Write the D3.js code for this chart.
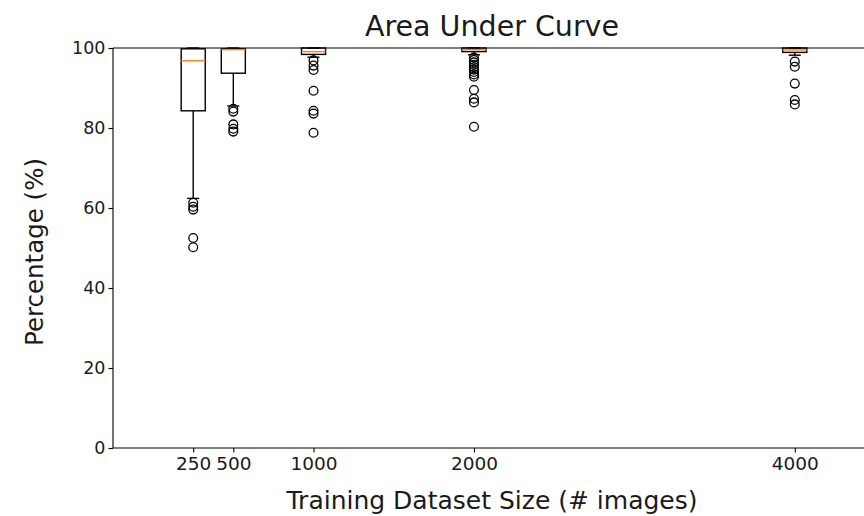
<!DOCTYPE html>
<html><head><meta charset="utf-8">
<script src="https://cdn.jsdelivr.net/npm/d3@7/dist/d3.min.js"></script>
<style>body{margin:0;background:#fff}svg{display:block}text{font-family:"DejaVu Sans",sans-serif;fill:#1a1a1a}</style>
</head><body><svg id="c" width="864" height="516"></svg>
<script>
const sizes = [250, 500, 1000, 2000, 4000];
const whiskerHi = [100, 100, 100, 100, 100];
const q3 = [99.8, 99.8, 100, 100, 100];
const medians = [96.8, 99.6, 99.1, 99.6, 99.5];
const q1 = [84.3, 93.7, 98.4, 99.1, 98.9];
const whiskerLo = [62.4, 85.5, 97.7, 98.3, 98.2];
const fliers250 = [61.3, 60.3, 59.6, 52.5, 50.2];
const fliers500 = [84.8, 84.1, 80.9, 79.8, 79.1];
const fliers1000 = [96.9, 95.6, 94.5, 89.3, 84.3, 83.6, 78.8];
const fliers2000 = [97.6, 97.0, 96.4, 95.8, 95.2, 94.6, 94.0, 93.4, 92.8, 89.5, 87.3, 86.4, 80.3];
const fliers4000 = [96.6, 95.3, 91.1, 87.0, 85.9];
const fliers = [fliers250, fliers500, fliers1000, fliers2000, fliers4000];
const yTicks = [0, 20, 40, 60, 80, 100];
const boxWidth = 150;

const svg = d3.select("#c");
const x = d3.scaleLinear().domain([-250, 4500]).range([113, 875]);
const y = d3.scaleLinear().domain([0, 100]).range([448, 48]);

const gx = svg.append("g").attr("transform", "translate(0,448)")
  .call(d3.axisBottom(x).tickValues(sizes).tickFormat(d3.format("d")).tickSize(4.5).tickPadding(4));
const gy = svg.append("g").attr("transform", "translate(113,0)")
  .call(d3.axisLeft(y).tickValues(yTicks).tickSize(4.5).tickPadding(3));
[gx, gy].forEach(g => {
  g.select(".domain").remove();
  g.selectAll("line").attr("stroke", "#000").attr("stroke-width", 1.1);
  g.selectAll("text").style("fill", "#1a1a1a").style("font-family", "DejaVu Sans");
});
gx.selectAll("text").style("font-size", "18.5px");
gy.selectAll("text").style("font-size", "17.5px");
svg.append("line").attr("x1", 113).attr("x2", 113).attr("y1", 48).attr("y2", 448).attr("stroke", "#000").attr("stroke-width", 1.1);
svg.append("line").attr("x1", 113).attr("x2", 875).attr("y1", 448).attr("y2", 448).attr("stroke", "#000").attr("stroke-width", 1.1);
svg.append("line").attr("x1", 113).attr("x2", 875).attr("y1", 48).attr("y2", 48).attr("stroke", "#000").attr("stroke-width", 1.1);

const g = svg.append("g");
sizes.forEach((s, i) => {
  const cx = x(s), x0 = x(s - boxWidth / 2), x1 = x(s + boxWidth / 2);
  const cx0 = x(s - boxWidth / 4), cx1 = x(s + boxWidth / 4);
  const bg = g.append("g").attr("fill", "none").attr("stroke", "#000").attr("stroke-width", 1.4);
  bg.append("line").attr("x1", cx).attr("x2", cx).attr("y1", y(q1[i])).attr("y2", y(whiskerLo[i]));
  bg.append("line").attr("x1", cx).attr("x2", cx).attr("y1", y(q3[i])).attr("y2", y(whiskerHi[i]));
  bg.append("line").attr("x1", cx0).attr("x2", cx1).attr("y1", y(whiskerLo[i])).attr("y2", y(whiskerLo[i]));
  bg.append("line").attr("x1", cx0).attr("x2", cx1).attr("y1", y(whiskerHi[i])).attr("y2", y(whiskerHi[i]));
  bg.append("rect").attr("x", x0).attr("width", x1 - x0).attr("y", y(q3[i])).attr("height", y(q1[i]) - y(q3[i]));
  g.append("line").attr("x1", x0).attr("x2", x1).attr("y1", y(medians[i])).attr("y2", y(medians[i]))
    .attr("stroke", "#ff7f0e").attr("stroke-width", 1.4);
  g.append("g").selectAll("circle").data(fliers[i]).join("circle")
    .attr("cx", cx).attr("cy", d => y(d)).attr("r", 4.4)
    .attr("fill", "none").attr("stroke", "#000").attr("stroke-width", 1.3);
});

svg.append("text").attr("x", 492).attr("y", 36).attr("text-anchor", "middle").style("font-size", "28.5px").text("Area Under Curve");
svg.append("text").attr("x", 492).attr("y", 509).attr("text-anchor", "middle").style("font-size", "25px").text("Training Dataset Size (# images)");
svg.append("text").attr("transform", "translate(43,252) rotate(-90)").attr("text-anchor", "middle").style("font-size", "24.5px").text("Percentage (%)");
</script></body></html>
